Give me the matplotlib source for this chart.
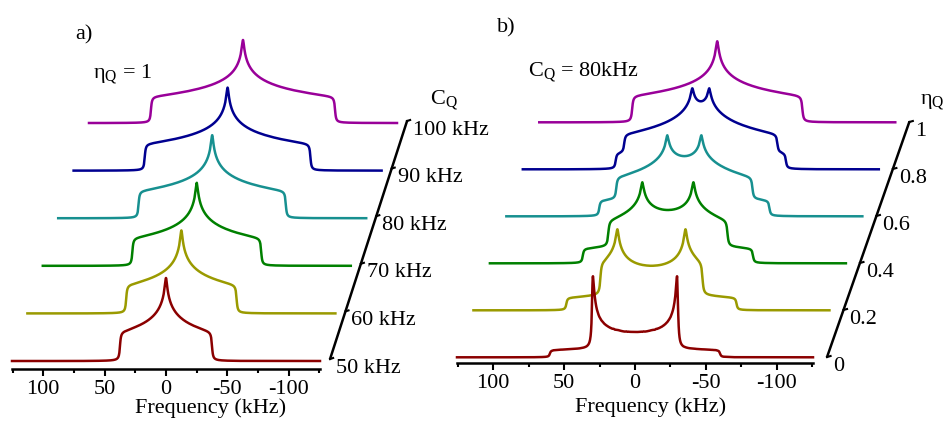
import numpy as np
import matplotlib
matplotlib.use("Agg")
import matplotlib.pyplot as plt

plt.rcParams['font.family'] = ['Liberation Serif', 'DejaVu Serif']
plt.rcParams['mathtext.fontset'] = 'custom'
plt.rcParams['mathtext.rm'] = 'Liberation Serif'
plt.rcParams['mathtext.it'] = 'Liberation Serif:italic'

# a) eta fixed at 1, C_Q stepped
cq_a = [50, 60, 70, 80, 90, 100]        # kHz
eta_a = 1.0
labels_a = ['50 kHz', '60 kHz', '70 kHz', '80 kHz', '90 kHz', '100 kHz']

# b) C_Q fixed at 80 kHz, eta stepped
cq_b = 80.0
eta_b = [0.0, 0.2, 0.4, 0.6, 0.8, 1.0]
labels_b = ['0', '0.2', '0.4', '0.6', '0.8', '1']

colors = ['#8b0000', '#9a9a00', '#008000', '#179090', '#000090', '#990099']
major_ticks = [100, 50, 0, -50, -100]
minor_ticks = [125, 75, 25, -25, -75, -125]
line_broad = 1.2   # kHz, lorentzian fwhm

freq = np.arange(-1255, 1256) * 0.1


def powder_spectrum(cq, eta, lb):
    # spin-1 first order quadrupolar powder pattern, both transitions
    n = 1200
    ct = (np.arange(n) + 0.5) / n
    ph = (np.arange(n) + 0.5) / n * np.pi / 2
    c, p = np.meshgrid(ct, ph)
    nu = 3 * cq / 8 * (3 * c**2 - 1 + eta * (1 - c**2) * np.cos(2 * p))
    nu = np.concatenate([nu.ravel(), -nu.ravel()])
    step = freq[1] - freq[0]
    edges = np.append(freq - step / 2, freq[-1] + step / 2)
    h, _ = np.histogram(nu, bins=edges)
    k = np.arange(-400, 401) * step
    lor = 1 / (1 + (2 * k / lb) ** 2)
    spec = np.convolve(h, lor, mode='same')
    return spec / spec.max()


W, H = 945, 424
fig = plt.figure(figsize=(W / 100, H / 100), dpi=100)
fs = 16


def make_axes(left, axis_y, width, top):
    ax = fig.add_axes([left / W, 1 - axis_y / H, width / W, (axis_y - top) / H])
    ax.set_xlim(125.5, -125.5)
    ax.set_ylim(0, axis_y - top)
    for s in ['top', 'left', 'right']:
        ax.spines[s].set_visible(False)
    ax.spines['bottom'].set_linewidth(1.8)
    ax.set_yticks([])
    ax.set_xticks(major_ticks)
    ax.set_xticklabels([str(t) for t in major_ticks])
    ax.set_xticks(minor_ticks, minor=True)
    ax.tick_params(axis='x', which='major', length=5, width=1.5, labelsize=fs, pad=3)
    ax.tick_params(axis='x', which='minor', length=3, width=1.5)
    ax.patch.set_alpha(0)
    return ax


def draw_stack(ax, spectra, labels, dx, dy, base, amp, gap, lift):
    for i, spec in enumerate(spectra):
        ax.plot(freq - i * dx, base + i * dy + amp * spec, color=colors[i],
                lw=1.8, clip_on=False, zorder=10 - i)
    xs = [-125.5 - gap - i * dx for i in range(len(spectra))]
    ys = [base + lift + i * dy for i in range(len(spectra))]
    ax.plot([xs[0], xs[-1]], [ys[0], ys[-1]], color='k', lw=1.8,
            clip_on=False, solid_capstyle='round')
    for x, y, lab in zip(xs, ys, labels):
        ax.plot([x, x - 2.5], [y, y + 1], color='k', lw=1.5, clip_on=False)
        ax.annotate(lab, (x, y), xytext=(4.3, -6.5), textcoords='offset points',
                    ha='left', va='center', fontsize=fs, annotation_clip=False)


spec_a = [powder_spectrum(cq, eta_a, line_broad) for cq in cq_a]
spec_b = [powder_spectrum(cq_b, eta, line_broad) for eta in eta_b]

ax_a = make_axes(12, 369, 308, 29)
draw_stack(ax_a, spec_a, labels_a, dx=12.55, dy=47.6, base=8, amp=83, gap=8.2, lift=2)

ax_b = make_axes(457, 363, 356, 29)
draw_stack(ax_b, spec_b, labels_b, dx=11.6, dy=47.0, base=5.7, amp=81, gap=9.9, lift=0.3)

fig.text(75 / W, 1 - 39 / H, 'a)', fontsize=fs, va='baseline')
fig.text(497 / W, 1 - 32 / H, 'b)', fontsize=fs, va='baseline')
fig.text(93 / W, 1 - 78 / H, r'η$_\mathrm{Q}$ = 1', fontsize=fs, va='baseline')
fig.text(528 / W, 1 - 77 / H, r'C$_\mathrm{Q}$ = 80kHz', fontsize=fs, va='baseline')
fig.text(430 / W, 1 - 105 / H, r'C$_\mathrm{Q}$', fontsize=fs, va='baseline')
fig.text(920 / W, 1 - 105 / H, r'η$_\mathrm{Q}$', fontsize=fs, va='baseline')
fig.text(211 / W, 1 - 408 / H, 'Frequency (kHz)', fontsize=fs, ha='center', va='center')
fig.text(651 / W, 1 - 407 / H, 'Frequency (kHz)', fontsize=fs, ha='center', va='center')

fig.savefig('out.png', dpi=100)
